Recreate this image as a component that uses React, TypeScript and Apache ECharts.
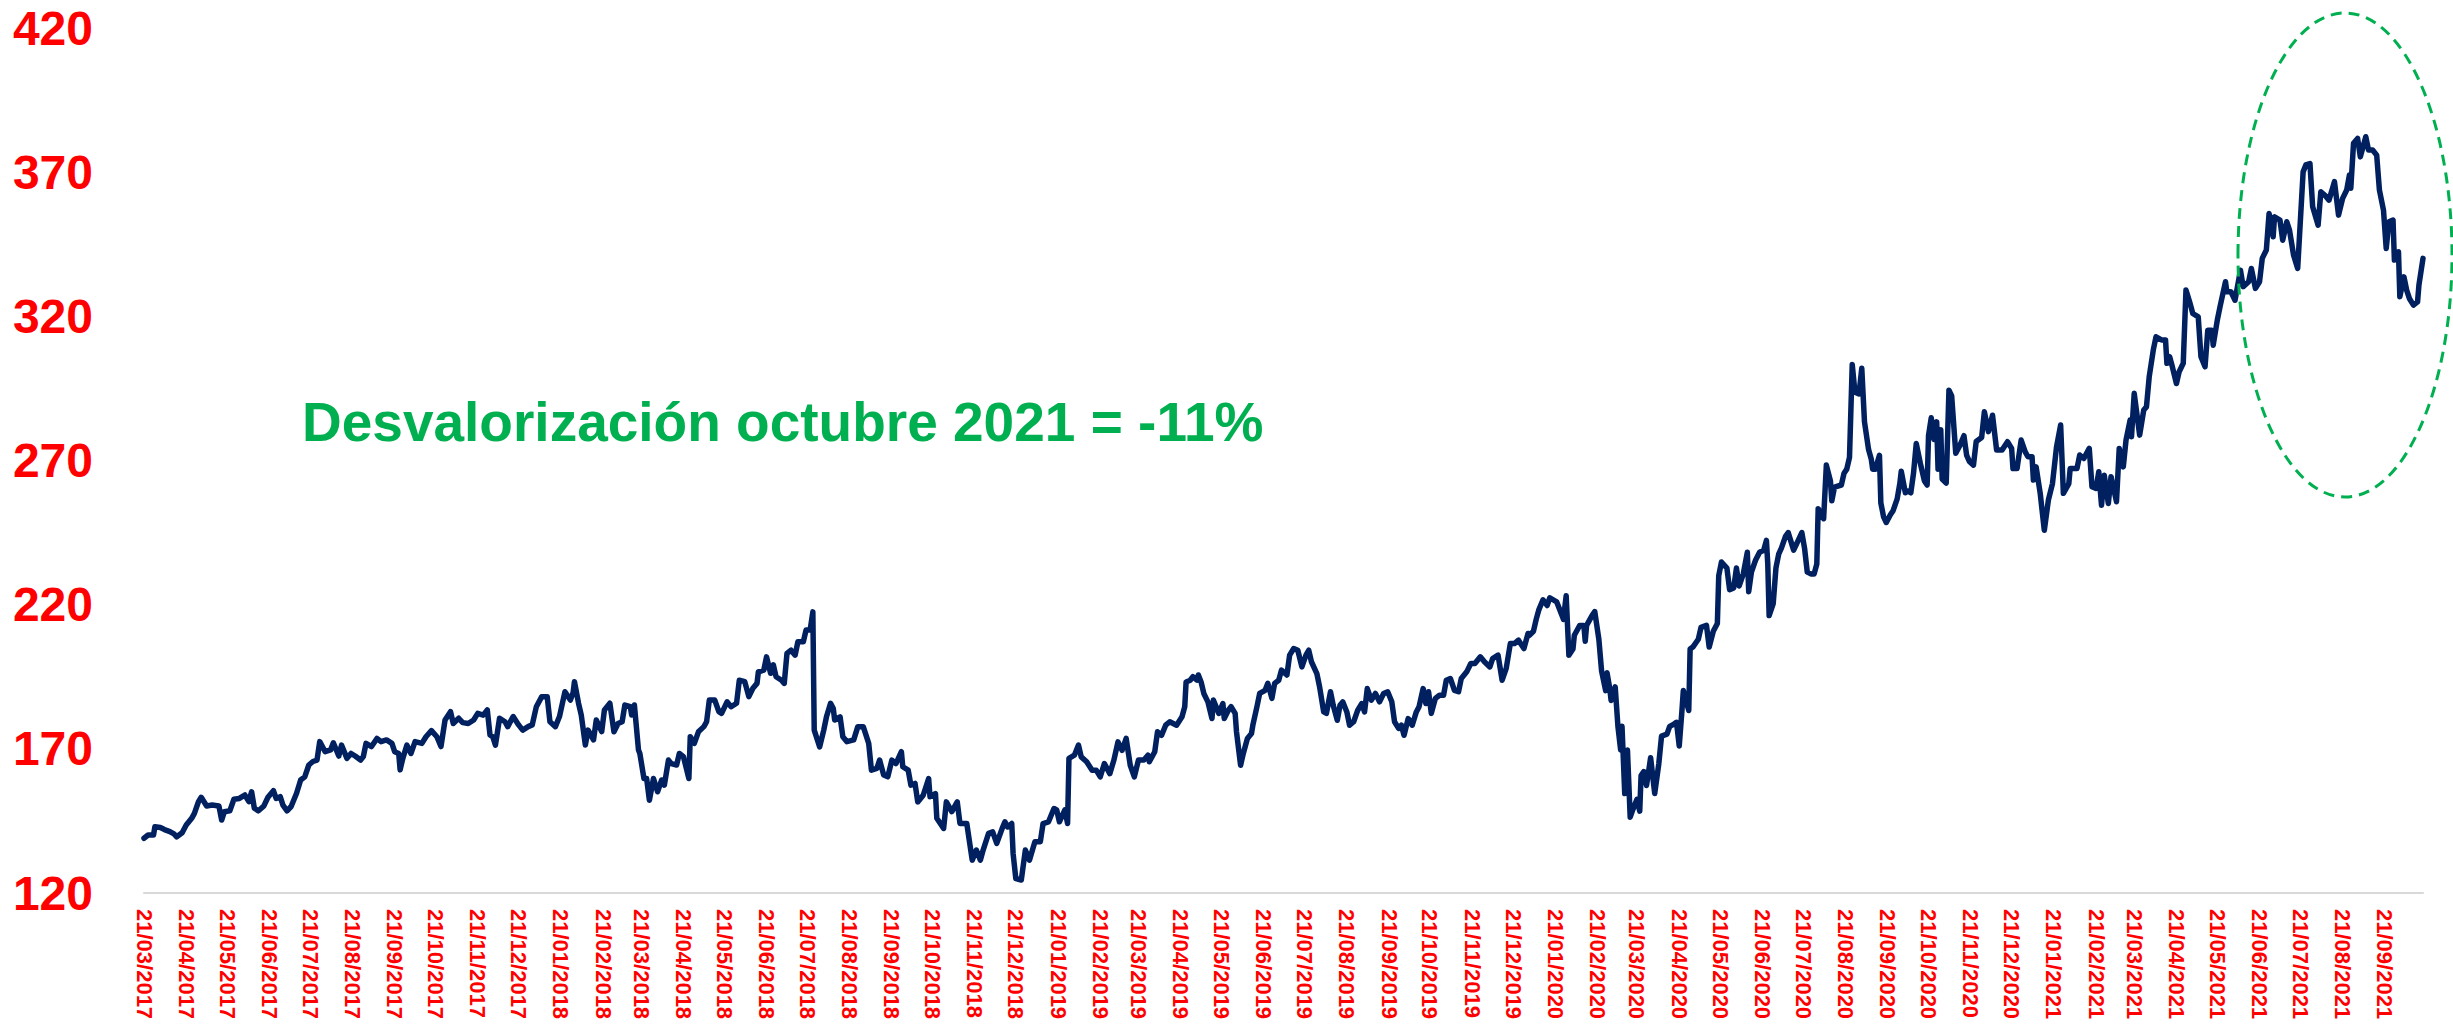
import React, { useEffect, useRef } from 'react';
import * as echarts from 'echarts';

const FONT = '"Liberation Sans", Arial, sans-serif';
const START_UTC = Date.UTC(2017, 2, 21);
const LAST_DAY = 1673;

const monthLabels = [
  '21/03/2017', '21/04/2017', '21/05/2017', '21/06/2017', '21/07/2017', '21/08/2017', '21/09/2017', '21/10/2017', '21/11/2017', '21/12/2017',
  '21/01/2018', '21/02/2018', '21/03/2018', '21/04/2018', '21/05/2018', '21/06/2018', '21/07/2018', '21/08/2018', '21/09/2018', '21/10/2018', '21/11/2018', '21/12/2018',
  '21/01/2019', '21/02/2019', '21/03/2019', '21/04/2019', '21/05/2019', '21/06/2019', '21/07/2019', '21/08/2019', '21/09/2019', '21/10/2019', '21/11/2019', '21/12/2019',
  '21/01/2020', '21/02/2020', '21/03/2020', '21/04/2020', '21/05/2020', '21/06/2020', '21/07/2020', '21/08/2020', '21/09/2020', '21/10/2020', '21/11/2020', '21/12/2020',
  '21/01/2021', '21/02/2021', '21/03/2021', '21/04/2021', '21/05/2021', '21/06/2021', '21/07/2021', '21/08/2021', '21/09/2021',
];

// days elapsed since 21/03/2017 for each reading
const sampleDay = [
  0, 3, 7, 8, 12, 15, 19, 22, 24, 28, 31, 35, 37, 40, 42, 46, 50, 55, 57, 59, 63, 66, 70, 74, 77, 79, 81, 84, 88, 91, 95, 97, 100, 102, 105, 108,
  112, 115, 118, 121, 124, 127, 129, 133, 137, 139, 143, 145, 149, 152, 155, 159, 161, 163, 167, 171, 174, 178, 182, 184, 187, 188, 190, 193, 196, 199,
  204, 207, 211, 215, 218, 221, 225, 227, 231, 234, 238, 242, 245, 249, 252, 254, 256, 258, 261, 265, 267, 271, 275, 278, 282, 285, 288, 292, 296, 298,
  302, 305, 309, 313, 315, 316, 319, 321, 324, 326, 330, 332, 336, 338, 342,
  345, 348, 351, 353, 357, 358, 360, 363, 364, 367, 369, 371, 374, 377, 380, 382, 385, 387, 391, 393, 396, 400, 401, 404, 407, 411, 413, 415, 419, 422,
  424, 428, 431, 435, 437, 441, 444, 447, 450, 451, 455, 457, 460, 462, 464, 468, 470, 472, 475, 478, 480, 484, 486, 489, 491, 492, 496, 499, 501, 504,
  506, 507, 511, 513, 516, 521, 524, 528, 532, 534, 538, 540, 543, 546, 549, 552, 556, 557, 561, 563, 566, 568, 572, 576, 577, 581, 582, 587, 589, 593,
  597, 599, 604, 608, 611, 614, 616, 620, 623, 626, 630, 632, 634, 637, 638, 640, 644, 647, 650, 654, 658, 660, 664, 668, 670, 672, 676, 678, 679,
  683, 686, 688, 692, 696, 699, 702, 705, 709, 712, 715, 718, 721, 724, 727, 730, 734, 737, 738, 742, 744, 747, 750, 753, 758, 762, 764, 765, 768, 770,
  773, 774, 776, 778, 781, 784, 785, 789, 792, 793, 796, 798, 801, 802, 805, 807, 810, 813, 814, 817, 819, 823, 825, 828, 830, 833, 835, 839, 841, 844,
  847, 850, 853, 855, 857, 861, 863, 866, 868, 871, 873, 876, 878, 880, 883, 885, 888, 891, 894, 896, 898, 901, 904, 907, 910, 913, 916, 918, 921, 923,
  925, 928, 931, 934, 936, 939, 941, 943, 945, 948, 951, 954, 956, 959, 962, 965, 967, 971, 974, 977, 981, 984, 988, 990, 994, 997, 1000, 1003, 1006,
  1009, 1013, 1016,
  1017, 1020, 1022, 1024, 1027, 1030, 1032, 1037, 1041, 1042, 1044, 1046, 1049, 1050, 1054, 1057, 1058, 1059, 1063, 1065, 1068, 1070, 1073, 1074, 1076,
  1077, 1080, 1082, 1084, 1085, 1087, 1089, 1091, 1093, 1096, 1098, 1099, 1101, 1103, 1106, 1109, 1112, 1114, 1118, 1120, 1123, 1125, 1127, 1129, 1130,
  1134, 1135, 1137, 1141, 1143, 1147, 1149, 1152, 1155, 1156, 1158, 1162, 1164, 1167, 1169, 1171, 1174, 1177, 1178, 1180, 1183, 1186, 1189, 1191, 1192,
  1193, 1196, 1198, 1200, 1202, 1205, 1207, 1211, 1213, 1217, 1219, 1221, 1224, 1226, 1228, 1229, 1233, 1235, 1238, 1239, 1241, 1246, 1248, 1250, 1252,
  1254, 1256, 1259, 1261, 1263, 1266, 1268, 1269, 1271, 1274, 1275, 1277, 1279, 1282, 1284, 1287, 1289, 1290, 1293, 1295, 1297, 1299, 1301, 1304, 1307,
  1309, 1310, 1312, 1314, 1316, 1317, 1319, 1320, 1323, 1325, 1327, 1330, 1333, 1336, 1338, 1340, 1343, 1345, 1349, 1351, 1354,
  1357, 1360, 1364, 1368, 1371, 1372, 1375, 1378, 1381, 1383, 1386, 1387, 1389, 1392, 1395, 1398, 1401, 1404, 1407, 1409, 1413, 1414, 1419, 1421, 1424,
  1428, 1430, 1433, 1435, 1437, 1439, 1442, 1444, 1448, 1450, 1453, 1455, 1458, 1459, 1461, 1465, 1468, 1470, 1472, 1475, 1477, 1481, 1484, 1485, 1487,
  1489, 1492, 1494, 1497, 1499, 1502, 1504, 1508, 1510, 1513, 1515, 1518, 1519, 1522, 1524, 1528, 1529, 1532, 1535, 1539, 1541, 1545, 1547, 1550, 1553,
  1555, 1558, 1560, 1563, 1564, 1568, 1570, 1573, 1575, 1578, 1581, 1585, 1587, 1590, 1592, 1596, 1598, 1601, 1604, 1608, 1611, 1614, 1617, 1619, 1620,
  1622, 1625, 1627, 1629, 1631, 1633, 1636, 1639, 1641, 1644, 1646, 1648, 1651, 1652, 1655, 1656, 1659, 1661, 1663, 1666, 1669, 1670, 1673,
];

const sampleValue = [
  139.0, 140.1, 140.1, 143.0, 142.7, 142.0, 141.3, 140.5, 139.5, 140.9, 143.6, 145.9, 147.6, 151.7, 153.2, 150.2, 150.5, 150.2, 145.3, 148.2, 148.5, 152.5, 152.8, 154.0, 151.7, 155.1, 149.4, 148.5, 150.2, 153.2, 155.5, 152.8, 153.4, 150.5, 148.5, 150.0,
  154.6, 159.2, 160.3, 164.4, 165.6, 166.1, 172.5, 169.0, 169.6, 172.1, 167.5, 171.3, 166.7, 168.4, 167.5, 166.1, 167.3, 171.9, 170.8, 173.6, 172.5, 173.1, 171.9, 169.0, 168.4, 162.7, 166.7, 171.3, 168.4, 172.5,
  171.9, 174.2, 176.3, 174.2, 170.8, 180.0, 182.9, 178.8, 180.6, 179.1, 178.8, 180.0, 182.3, 181.7, 183.5, 174.8, 174.2, 171.3, 180.6, 179.4, 177.7, 181.2, 178.3, 176.5, 177.7, 178.3, 184.6, 188.1, 188.1, 179.4,
  177.7, 181.2, 189.8, 186.9, 189.5, 193.3, 185.8, 181.7, 171.3, 176.5, 173.1, 180.0, 176.0, 183.5, 185.8,
  175.9, 178.8, 179.4, 185.2, 184.6, 181.7, 185.2, 169.6, 168.4, 159.7, 159.7, 152.2, 159.7, 155.1, 159.2, 157.4, 166.1, 164.9, 164.4, 168.4, 167.3, 159.7, 174.2, 171.9, 175.9, 177.7, 179.4, 186.9, 186.9, 182.9,
  182.3, 186.3, 184.6, 185.8, 193.8, 193.3, 188.1, 191.0, 192.7, 196.7, 197.3, 201.9, 196.2, 199.1, 195.0, 193.8, 192.7, 203.1, 204.2, 202.5, 207.1, 207.1, 211.2, 211.2, 217.5, 176.5, 170.7, 176.5, 181.1, 185.8,
  184.0, 180.0, 181.1, 174.2, 172.5, 173.1, 177.7, 177.7, 171.9, 162.6, 163.2, 166.1, 160.9, 160.3, 166.1, 164.9, 169.0, 163.8, 162.6, 157.4, 158.0, 151.6, 153.9, 159.7, 153.4, 154.5, 145.9, 142.4, 151.6, 148.2,
  151.6, 144.1, 144.1, 131.4, 134.9, 131.4, 134.9, 140.7, 141.2, 137.2, 142.4, 144.7, 142.9, 144.1, 133.7, 125.0, 124.5, 134.9, 131.4, 137.8, 137.8, 144.1, 144.7, 149.3, 148.8, 144.7, 148.8, 144.1, 166.7,
  167.8, 171.3, 167.2, 165.5, 162.6, 162.6, 160.3, 164.9, 161.4, 166.1, 172.4, 169.5, 173.6, 164.3, 160.3, 166.1, 166.1, 167.8, 165.5, 169.0, 175.9, 174.7, 178.2, 179.4, 178.2, 181.1, 184.6, 193.2, 193.8, 195.0,
  193.8, 195.6, 193.2, 189.2, 186.3, 180.5, 186.9, 182.3, 185.7, 180.5, 183.4, 184.6, 182.3, 175.9, 164.3, 168.4, 173.6, 175.3, 178.2, 184.6, 189.2, 190.3, 192.7, 187.5, 192.7, 193.8, 197.3, 195.6, 202.5, 204.8,
  204.2, 198.4, 202.5, 204.2, 200.2, 196.1, 191.5, 182.8, 182.3, 189.8, 185.1, 179.9, 185.1, 186.3, 182.8, 178.2, 179.4, 183.4, 185.7, 182.8, 190.9, 186.9, 189.2, 186.3, 189.2, 189.8, 186.3, 179.4, 177.1, 178.2,
  174.7, 180.5, 178.2, 182.8, 184.6, 190.9, 185.7, 189.8, 182.3, 187.5, 188.6, 188.6, 193.8, 194.4, 190.3, 189.8, 194.4, 196.7, 199.6, 199.6, 201.9, 200.2, 198.4, 201.3, 202.5, 193.8, 197.9, 206.5, 206.5,
  207.7, 204.8, 210.0,
  209.4, 210.8, 214.9, 218.3, 221.7, 219.7, 222.4, 221.0, 216.2, 214.9, 223.1, 202.5, 204.6, 209.4, 212.8, 212.8, 207.3, 212.8, 216.2, 217.6, 208.0, 197.0, 190.2, 196.4, 190.9,
  186.8, 191.5, 177.8, 169.6, 177.8, 154.5, 169.6, 146.3, 149.0, 152.5, 148.4, 160.7, 162.1, 157.3, 166.9, 154.5, 164.8, 174.4, 175.1, 177.8, 178.5, 179.2, 171.0, 183.3, 190.2,
  183.3, 204.6, 205.3, 208.0, 212.1, 212.8, 205.3, 210.8, 213.5, 230.0, 234.8, 232.7, 225.2, 225.8, 232.7, 226.5, 230.6, 238.2, 224.5, 231.3, 235.4, 238.2, 238.9, 242.3, 234.1,
  216.2, 220.4, 232.7, 237.5, 239.6, 243.7, 245.0, 238.9, 240.9, 245.0, 239.6, 231.3, 230.6, 230.6, 234.1, 253.3, 249.8, 268.4, 262.9, 256.0, 260.8, 261.5, 265.6, 267.0, 271.1,
  303.3, 293.7, 293.1, 302.0, 283.4, 273.8, 270.4, 267.0, 267.0, 271.8, 255.3, 250.5, 248.5, 251.2, 252.6, 256.7, 262.2, 266.3, 258.8, 259.4, 258.8, 265.6, 275.9, 269.0, 262.9,
  261.5, 278.6, 284.8, 277.3, 283.4, 267.0, 280.7, 263.6, 262.2, 294.4, 292.4, 272.5, 275.2, 278.6, 271.8, 269.7, 268.4, 276.6, 278.0, 286.9, 280.0,
  285.7, 273.6, 273.6, 276.5, 274.2, 267.2, 267.2, 277.1, 273.0, 271.3, 271.3, 263.2, 267.8, 258.6, 245.8, 256.3, 262.0, 274.8, 282.3, 258.6, 262.0, 267.2, 267.2, 271.9, 270.7,
  274.2, 260.9, 260.3, 266.1, 254.5, 264.9, 255.1, 264.4, 255.7, 274.2, 267.8, 277.1, 284.0, 278.2, 293.3, 278.8, 287.5, 288.6, 299.0, 308.3, 312.9, 311.8, 311.8, 303.7, 306.0,
  302.5, 296.7, 300.8, 303.7, 329.1, 324.5, 321.0, 319.8, 306.0, 302.5, 315.2, 315.2, 310.0, 318.7, 323.3, 332.0, 328.5, 328.5, 325.6, 336.0, 330.3, 332.0, 336.6, 329.7, 332.0,
  340.1, 343.0, 355.7, 347.6, 354.5, 353.4, 346.4, 352.8, 349.9, 341.2, 336.6, 370.1, 372.5, 373.0, 358.0, 351.6, 363.2, 362.0, 360.3, 366.7, 355.1, 360.9, 363.8, 369.0, 364.4,
  380.0, 381.7, 375.3, 378.8, 382.3, 377.7, 377.7, 375.9, 363.8, 356.8, 343.5, 352.8, 353.4, 339.5, 342.4, 326.8, 333.7, 329.1, 326.2, 323.9, 325.0, 330.8, 340.1,
];

const Y_MIN = 120;
const Y_MAX = 420;
const Y_STEP = 50;
const annotationText = 'Desvalorización octubre 2021 = -11%';

function labelToDay(s: string): number {
  const [d, m, y] = s.split('/').map(Number);
  return Math.round((Date.UTC(y, m - 1, d) - START_UTC) / 86400000);
}

export default function App() {
  const ref = useRef<HTMLDivElement>(null);

  useEffect(() => {
    document.body.style.margin = '0';
    if (!ref.current) return;
    const chart = echarts.init(ref.current, null, { renderer: 'svg' });
    const labelDays = monthLabels.map(labelToDay);
    const dayToLabel = new Map<number, string>();
    labelDays.forEach((d, i) => dayToLabel.set(d, monthLabels[i]));
    const data = sampleDay.map((d, i) => [d, sampleValue[i]]);

    chart.setOption({
      animation: false,
      backgroundColor: '#FFFFFF',
      grid: { left: 144, right: 30, top: 28, bottom: 136, containLabel: false },
      xAxis: {
        type: 'value',
        min: 0,
        max: LAST_DAY,
        axisLine: { show: true, onZero: false, lineStyle: { color: '#D9D9D9', width: 2 } },
        axisTick: { show: false },
        splitLine: { show: false },
        axisLabel: {
          customValues: labelDays,
          rotate: -90,
          margin: 16,
          color: '#FF0000',
          fontWeight: 'bold',
          fontSize: 22,
          fontFamily: FONT,
          formatter: (v: number) => dayToLabel.get(Math.round(v)) ?? '',
        },
      },
      yAxis: {
        type: 'value',
        min: Y_MIN,
        max: Y_MAX,
        interval: Y_STEP,
        axisLine: { show: false },
        axisTick: { show: false },
        splitLine: { show: false },
        axisLabel: {
          margin: 51,
          color: '#FF0000',
          fontWeight: 'bold',
          fontSize: 48,
          fontFamily: FONT,
        },
      },
      series: [
        {
          type: 'line',
          data,
          showSymbol: false,
          symbol: 'none',
          lineStyle: { color: '#002060', width: 5.5, join: 'round', cap: 'round' },
          z: 3,
        },
      ],
      graphic: [
        {
          type: 'text',
          x: 302,
          y: 422,
          z: 100,
          style: {
            text: annotationText,
            fill: '#00B050',
            font: `bold 55px ${FONT}`,
            textAlign: 'left',
            textVerticalAlign: 'middle',
          },
        },
        {
          type: 'ellipse',
          z: 100,
          shape: { cx: 2345, cy: 255, rx: 107, ry: 242 },
          style: { fill: 'none', stroke: '#00B050', lineWidth: 3, lineDash: [11, 7] },
        },
      ],
    });

    return () => chart.dispose();
  }, []);

  return (
    <div
      ref={ref}
      style={{ position: 'absolute', left: 0, top: 0, width: 2453, height: 1029 }}
    />
  );
}
